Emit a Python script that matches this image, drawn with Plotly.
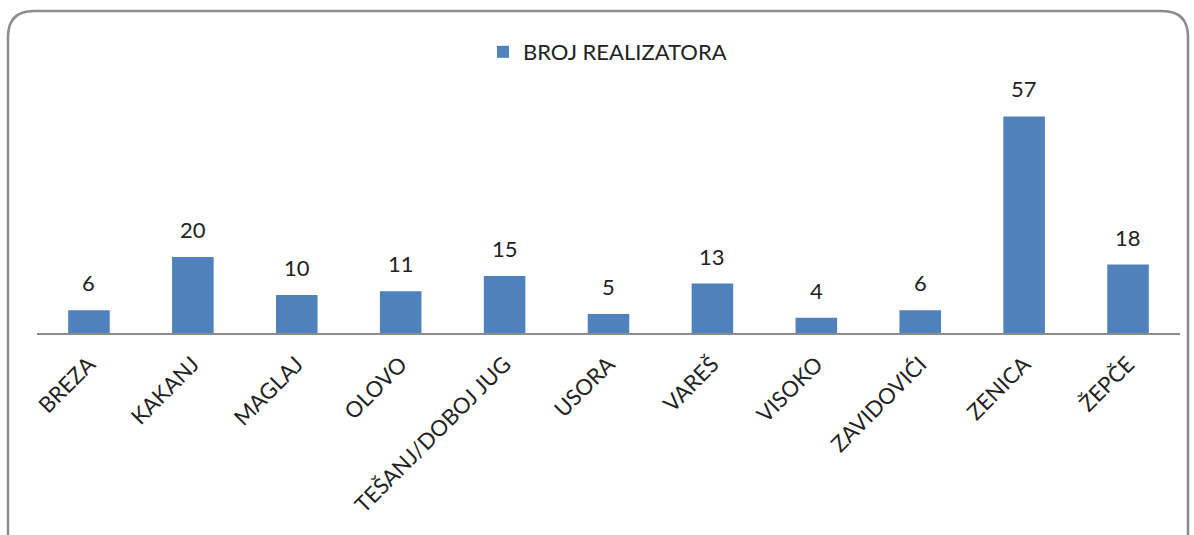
import plotly.graph_objects as go

categories = ["BREZA", "KAKANJ", "MAGLAJ", "OLOVO", "TEŠANJ/DOBOJ JUG", "USORA",
              "VAREŠ", "VISOKO", "ZAVIDOVIĆI", "ZENICA", "ŽEPČE"]
values = [6, 20, 10, 11, 15, 5, 13, 4, 6, 57, 18]
series_name = "BROJ REALIZATORA"

W, H = 1194, 535
ML, MR, MT, MB = 37, 14, 105, 202
PW, PH = W - ML - MR, H - MT - MB
FONT = "Lato"
FS = 22


def px(x):
    return (x - ML) / PW


def py(y):
    return (H - MB - y) / PH


fig = go.Figure()
fig.add_trace(go.Bar(
    x=categories, y=values, name=series_name,
    marker=dict(color="#4F81BD", line=dict(width=0)),
    showlegend=True,
))

for c, v in zip(categories, values):
    fig.add_annotation(x=c, y=v, text=str(v), showarrow=False,
                       yanchor="bottom", yshift=12,
                       font=dict(family=FONT, size=FS, color="#222"))

# rounded frame
x0, x1, y0, y1, r = 8, 1188, 11, 560, 26
path = (f"M {px(x0)},{py(y1)} L {px(x0)},{py(y0 + r)} "
        f"Q {px(x0)},{py(y0)} {px(x0 + r)},{py(y0)} "
        f"L {px(x1 - r)},{py(y0)} Q {px(x1)},{py(y0)} {px(x1)},{py(y0 + r)} "
        f"L {px(x1)},{py(y1)}")
fig.add_shape(type="path", path=path, xref="paper", yref="paper",
              line=dict(color="#8C8C8C", width=2.5), layer="above")

fig.update_layout(
    width=W, height=H,
    margin=dict(l=ML, r=MR, t=MT, b=MB, autoexpand=False),
    paper_bgcolor="white", plot_bgcolor="white",
    bargap=0.6,
    font=dict(family=FONT, size=FS, color="#222"),
    legend=dict(orientation="h", x=px(483), y=py(52), xanchor="left", yanchor="middle",
                font=dict(family=FONT, size=FS, color="#222"), bgcolor="rgba(0,0,0,0)"),
    xaxis=dict(showline=True, linecolor="#8C8C8C", linewidth=1.5, tickangle=-45,
               ticks="", showgrid=False, tickfont=dict(family=FONT, size=FS, color="#222"),
               ticklabelstandoff=8),
    yaxis=dict(range=[0, 60], visible=False, showgrid=False),
)

fig.write_html("out.html", config={"displayModeBar": False},
               post_script="document.body.style.margin='0';document.body.style.overflow='hidden';")
